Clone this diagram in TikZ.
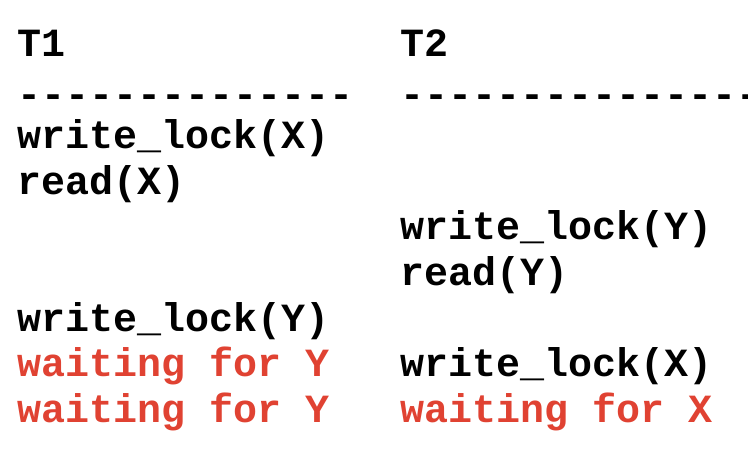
\documentclass[tikz,border=0pt]{standalone}
\usepackage{fontspec}
\setmonofont{Liberation Mono}
\definecolor{waitred}{RGB}{224,66,50}
\tikzset{
  codeline/.style={anchor=base west, inner sep=0pt, outer sep=0pt,
    font=\ttfamily\bfseries\fontsize{40bp}{40bp}\selectfont, text=black},
  waitline/.style={codeline, text=waitred}
}
\begin{document}
\begin{tikzpicture}[x=1bp,y=-1bp]
\useasboundingbox (0,0) rectangle (748,456);
\clip (0,0) rectangle (748,456);
\fill[white] (0,0) rectangle (748,456);
\def\bl#1{57+45.7*#1}
% column 1
\node[codeline] (t1) at (17,{\bl{0}}) {T1};
\node[codeline] (d1) at (17,{\bl{1}+5}) {--------------};
\node[codeline] (a1) at (17,{\bl{2}}) {write\_lock(X)};
\node[codeline] (a2) at (17,{\bl{3}}) {read(X)};
\node[codeline] (a3) at (17,{\bl{6}}) {write\_lock(Y)};
\node[waitline] (a4) at (17,{\bl{7}}) {waiting for Y};
\node[waitline] (a5) at (17,{\bl{8}}) {waiting for Y};
% column 2
\node[codeline] (t2) at (400,{\bl{0}}) {T2};
\node[codeline] (d2) at (400,{\bl{1}+5}) {----------------};
\node[codeline] (b1) at (400,{\bl{4}}) {write\_lock(Y)};
\node[codeline] (b2) at (400,{\bl{5}}) {read(Y)};
\node[codeline] (b3) at (400,{\bl{7}}) {write\_lock(X)};
\node[waitline] (b4) at (400,{\bl{8}}) {waiting for X};
\end{tikzpicture}
\end{document}
